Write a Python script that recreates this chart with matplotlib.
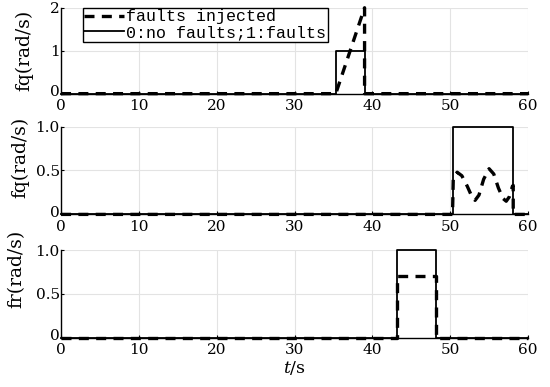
import matplotlib
matplotlib.use('Agg')
import matplotlib.pyplot as plt
import matplotlib.transforms as mtransforms

plt.rcParams.update({
    'font.family': 'DejaVu Serif',
    'font.size': 11,
    'mathtext.fontset': 'dejavuserif',
})

# panel 1: fq, ramp fault
t1_flag = [0, 35.3, 35.3, 39.0, 39.0, 60]
y1_flag = [0, 0, 1, 1, 0, 0]
t1_fault = [0, 35.3, 39.0, 39.0, 60]
y1_fault = [0, 0, 2.0, 0, 0]

# panel 2: fq, oscillating fault
t2_flag = [0, 50.3, 50.3, 58.1, 58.1, 60]
y2_flag = [0, 0, 1, 1, 0, 0]
t2_fault = [0, 50.3, 50.4, 50.9, 51.5, 52.2, 52.8, 53.2, 53.7, 54.3, 55.0,
            55.6, 56.2, 56.8, 57.2, 57.6, 58.0, 58.1, 58.1, 60]
y2_fault = [0, 0, 0.42, 0.48, 0.44, 0.32, 0.2, 0.16, 0.22, 0.4, 0.52,
            0.46, 0.3, 0.18, 0.15, 0.2, 0.32, 0.33, 0, 0]

# panel 3: fr, step fault
t3_flag = [0, 43.2, 43.2, 48.2, 48.2, 60]
y3_flag = [0, 0, 1, 1, 0, 0]
t3_fault = [0, 43.2, 43.2, 48.2, 48.2, 60]
y3_fault = [0, 0, 0.7, 0.7, 0, 0]

x_ticks = [0, 10, 20, 30, 40, 50, 60]

fig = plt.figure(figsize=(5.5, 3.87), dpi=100)
left, width = 0.111, 0.849
ax1 = fig.add_axes([left, 0.758, width, 0.222])
ax2 = fig.add_axes([left, 0.446, width, 0.227])
ax3 = fig.add_axes([left, 0.127, width, 0.227])

panels = [
    (ax1, t1_fault, y1_fault, t1_flag, y1_flag, 'fq(rad/s)', [0, 1, 2], ['0', '1', '2'], 2.0, (-0.060, 0.5)),
    (ax2, t2_fault, y2_fault, t2_flag, y2_flag, 'fq(rad/s)', [0, 0.5, 1.0], ['0', '0.5', '1.0'], 1.0, (-0.067, 0.65)),
    (ax3, t3_fault, y3_fault, t3_flag, y3_flag, 'fr(rad/s)', [0, 0.5, 1.0], ['0', '0.5', '1.0'], 1.0, (-0.077, 0.79)),
]

# nudge the y "0" up a little so it doesn't collide with the x "0"
lift = mtransforms.ScaledTranslation(0, 3 / 100, fig.dpi_scale_trans)

for ax, tf, yf, ts, ys, ylab, yt, ytl, ytop, lpos in panels:
    dash_line, = ax.plot(tf, yf, color='black', lw=2.4, ls=(0, (3, 2.2)), zorder=4)
    flag_line, = ax.plot(ts, ys, color='black', lw=1.3, zorder=3)
    ax.set_xlim(0, 60)
    ax.set_ylim(0, ytop)
    ax.set_xticks(x_ticks)
    ax.set_yticks(yt)
    ax.set_yticklabels(ytl)
    ax.grid(True, color='#e3e3e3', lw=0.8)
    ax.set_axisbelow(True)
    for side in ['top', 'right']:
        ax.spines[side].set_visible(False)
    ax.spines['left'].set_linewidth(1.0)
    ax.spines['bottom'].set_linewidth(1.0)
    ax.tick_params(direction='in', length=2, labelsize=11)
    ax.tick_params(axis='x', pad=4)
    ax.tick_params(axis='y', pad=1)
    zero_lbl = ax.get_yticklabels()[0]
    zero_lbl.set_transform(zero_lbl.get_transform() + lift)
    ax.set_ylabel(ylab, fontsize=13.5)
    ax.yaxis.set_label_coords(*lpos)
    for ln in ax.lines:
        ln.set_clip_on(False)

ax1.legend([dash_line, flag_line], ['faults injected', '0:no faults;1:faults'],
           loc='upper left', bbox_to_anchor=(0.046, 1.0), prop={'family': 'Liberation Mono', 'size': 12},
           frameon=True, fancybox=False, edgecolor='black', framealpha=1,
           handlelength=2.4, handletextpad=0.1, borderpad=0.1,
           labelspacing=0.05, borderaxespad=0)
ax1.get_legend().get_frame().set_linewidth(1.0)

ax3.set_xlabel('$t$/s', fontsize=12.5, labelpad=1)

fig.savefig('out.png', dpi=100)
